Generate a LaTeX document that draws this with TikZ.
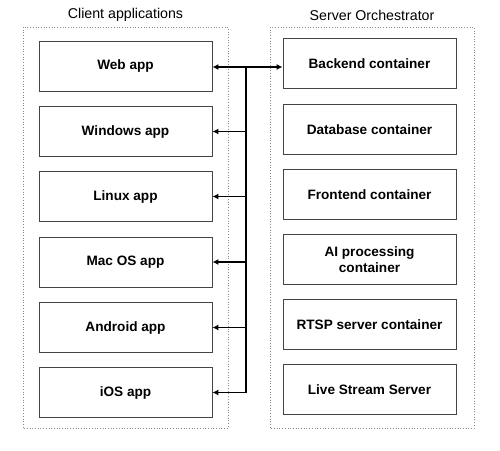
\documentclass[tikz,border=0pt]{standalone}
\usepackage{fontspec}
\setmainfont{Liberation Sans}
\usepackage{tikz}
\usepackage{xcolor}
\usetikzlibrary{shapes.geometric, arrows.meta, positioning}

\definecolor{boxline}{HTML}{444444}
\definecolor{groupline}{HTML}{888888}

\tikzset{
  appbox/.style={draw=boxline, line width=0.9pt, minimum width=173pt, minimum height=50pt,
    align=center, font=\fontsize{13.6}{16}\selectfont\bfseries, inner sep=2pt},
  groupbox/.style={draw=groupline, dotted, line width=0.7pt},
  grouptitle/.style={font=\fontsize{14.2}{16}\selectfont},
  link/.style={line width=1.3pt, >={Latex[length=6pt,width=6pt]}}
}

\begin{document}
\begin{tikzpicture}[x=1pt, y=-1pt]
\useasboundingbox (0,0) rectangle (500,450);

% groups
\draw[groupbox] (23,27) rectangle (228,428);
\draw[groupbox] (270,27) rectangle (474,428);
\node[grouptitle] (clienttitle) at (125.5,15) {Client applications};
\node[grouptitle] (servertitle) at (372,15) {Server Orchestrator};

% client side
\node[appbox] (web) at (125.5,66) {Web app};
\node[appbox] (windows) at (125.5,131.5) {Windows app};
\node[appbox] (linux) at (125.5,196.5) {Linux app};
\node[appbox] (mac) at (125.5,262) {Mac OS app};
\node[appbox] (android) at (125.5,327.5) {Android app};
\node[appbox] (ios) at (125.5,392.5) {iOS app};

% server side
\node[appbox] (backend) at (369.5,63.5) {Backend container};
\node[appbox] (database) at (369.5,129.5) {Database container};
\node[appbox] (frontend) at (369.5,194.5) {Frontend container};
\node[appbox] (ai) at (369.5,259.5) {AI processing\\container};
\node[appbox] (rtsp) at (369.5,324.5) {RTSP server container};
\node[appbox] (live) at (369.5,389.5) {Live Stream Server};

% bus
\coordinate (bustop) at (246,67);
\coordinate (busbot) at (246,392.5);
\draw[link] (bustop) -- (busbot);
\draw[link, <->] (web.east |- bustop) -- (backend.west |- bustop);
\draw[link, ->] (windows.east -| bustop) -- (windows.east);
\draw[link, ->] (linux.east -| bustop) -- (linux.east);
\draw[link, ->] (mac.east -| bustop) -- (mac.east);
\draw[link, ->] (android.east -| bustop) -- (android.east);
\draw[link, ->] (ios.east -| bustop) -- (ios.east);
\end{tikzpicture}
\end{document}
